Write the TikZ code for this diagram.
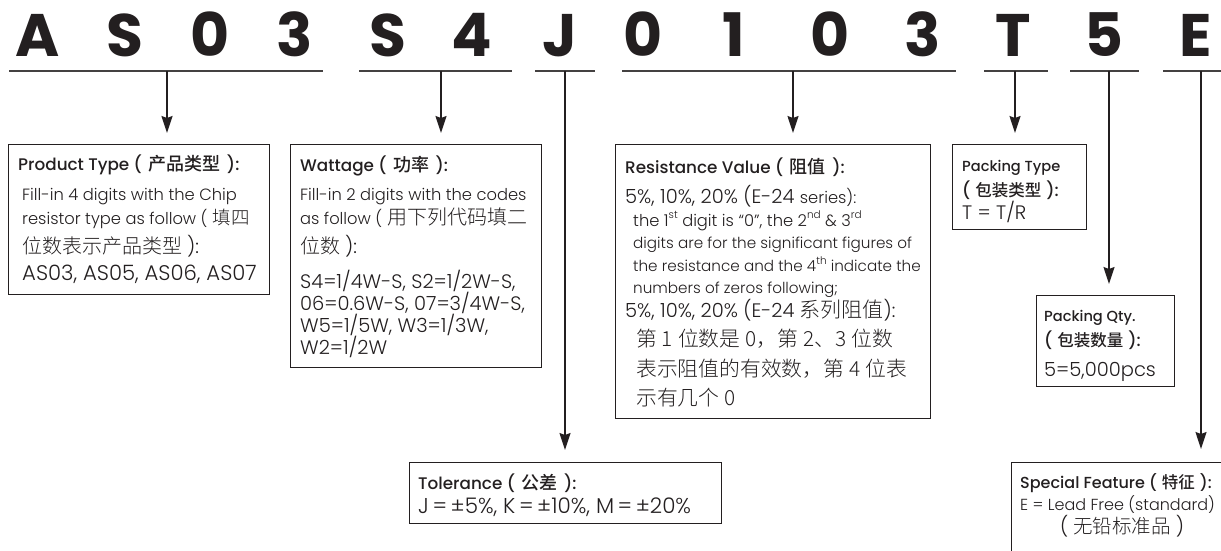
\documentclass[tikz,border=0pt]{standalone}
\usepackage{fontspec}
\usetikzlibrary{arrows.meta}
\newfontfamily\poppins{Poppins}
\IfFontExistsTF{Poppins Light}{\newfontfamily\bodyf{Poppins Light}}{\newfontfamily\bodyf{Poppins}}
\IfFontExistsTF{Poppins Medium}{\newfontfamily\titf{Poppins Medium}}{\newfontfamily\titf{Poppins}[FakeBold=1.2]}
\IfFontExistsTF{Noto Sans CJK SC Light}{\newfontfamily\cjkl{Noto Sans CJK SC Light}}{\newfontfamily\cjkl{Noto Sans CJK SC}}
\IfFontExistsTF{Noto Sans CJK SC Medium}{\newfontfamily\cjkm{Noto Sans CJK SC Medium}}{\newfontfamily\cjkm{Noto Sans CJK SC}}
\newcommand\smf{\fontsize{16.3}{18}\bodyf}
\newcommand\rsf{\fontsize{15.2}{18}\bodyf}
\newcommand\lgf{\fontsize{19.5}{22}\bodyf}
\newcommand\cjf{\fontsize{20}{22}\cjkl}
\newcommand\cjr{\fontsize{20.8}{22}\cjkl}
\newcommand\titl{\fontsize{16.8}{18}\titf}
\newcommand\titp{\fontsize{14.6}{18}\titf}
\newcommand\tcj{\fontsize{18}{18}\cjkm}
\newcommand\tcp{\fontsize{16.5}{18}\cjkm}
\newcommand\sups[1]{\raisebox{0.45em}{\fontsize{10.5}{10}\bodyf #1}}
\newcommand\gap{\hspace{5pt}}
\newcommand\tgap{\hspace{6.5pt}}
\definecolor{ink}{HTML}{231F20}
\tikzset{
  big/.style={anchor=base, inner sep=0pt, text=ink, font=\fontsize{60}{60}\poppins\bfseries},
  uline/.style={line width=2.6pt, draw=ink!85},
  conn/.style={line width=1.4pt, draw=ink, -{Stealth[length=17pt,width=11pt,inset=2pt]}},
  box/.style={draw=ink, line width=1.3pt, anchor=north west, inner sep=0pt},
  txt/.style={anchor=base west, inner sep=0pt, text=ink}
}
\begin{document}
\begin{tikzpicture}[x=1pt,y=-1pt]
\useasboundingbox (0,0) rectangle (1221,551);
% code letters
\node[big] (L1) at (38,57) {A};
\node[big] (L2) at (125,57) {S};
\node[big] (L3) at (210,57) {0};
\node[big] (L4) at (295,57) {3};
\node[big] (L5) at (388,57) {S};
\node[big] (L6) at (472,57) {4};
\node[big] (L7) at (560,57) {J};
\node[big] (L8) at (643,57) {0};
\node[big] (L9) at (734,57) {1};
\node[big] (L10) at (830,57) {0};
\node[big] (L11) at (923,57) {3};
\node[big] (L12) at (1013,57) {T};
\node[big] (L13) at (1104,57) {5};
\node[big] (L14) at (1196,57) {E};
% underlines
\draw[uline] (9,71) -- (323,71);
\draw[uline] (359,71) -- (512,71);
\draw[uline] (535,71) -- (595,71);
\draw[uline] (622,71) -- (956,71);
\draw[uline] (984,71) -- (1048,71);
\draw[uline] (1070,71) -- (1139,71);
\draw[uline] (1163,71) -- (1230,71);
\coordinate (u1) at (167,71);
\coordinate (u2) at (441,71);
\coordinate (u3) at (565,71);
\coordinate (u4) at (793,71);
\coordinate (u5) at (1015,71);
\coordinate (u6) at (1109,71);
\coordinate (u7) at (1201,71);
% boxes
\node[box, minimum width=261pt, minimum height=150pt] (b1) at (8,144) {};
\node[box, minimum width=251pt, minimum height=223pt] (b2) at (290,144) {};
\node[box, minimum width=315pt, minimum height=274pt] (b3) at (615,144) {};
\node[box, minimum width=134pt, minimum height=85pt] (b4) at (952,144) {};
\node[box, minimum width=138pt, minimum height=91pt] (b5) at (1036,295) {};
\node[box, minimum width=312pt, minimum height=61pt] (b6) at (409,462) {};
\node[box, minimum width=230pt, minimum height=110pt] (b7) at (1011,462) {};
% connectors
\draw[conn, shorten >=11pt] (u1) -- (u1 |- b1.north);
\draw[conn, shorten >=11pt] (u2) -- (u2 |- b2.north);
\draw[conn, shorten >=12pt] (u3) -- (u3 |- b6.north);
\draw[conn, shorten >=11pt] (u4) -- (u4 |- b3.north);
\draw[conn, shorten >=11pt] (u5) -- (u5 |- b4.north);
\draw[conn, shorten >=11pt] (u6) -- (u6 |- b5.north);
\draw[conn, shorten >=13pt] (u7) -- (u7 |- b7.north);
% box 1
\node[txt] (t1a) at (18,170) {\titl Product Type (\tgap\tcj 产品类型\tgap\titl ):};
\node[txt] (t1b) at (22,200) {\smf Fill-in 4 digits with the Chip};
\node[txt] (t1c) at (22,224) {\smf resistor type as follow (\gap\fontsize{18.5}{20}\cjkl 填四};
\node[txt] (t1d) at (22,253) {\cjf 位数表示产品类型\gap\lgf ):};
\node[txt] (t1e) at (22,280) {\fontsize{21.2}{22}\bodyf AS03, AS05, AS06, AS07};
% box 2
\node[txt] (t2a) at (300,171) {\titl Wattage (\tgap\tcj 功率\tgap\titl ):};
\node[txt] (t2b) at (300,200) {\smf Fill-in 2 digits with the codes};
\node[txt] (t2c) at (300,224) {\smf as follow (\gap\cjf 用下列代码填二};
\node[txt] (t2d) at (300,253) {\cjf 位数\gap\lgf ):};
\node[txt] (t2e) at (300,288) {\lgf S4=1/4W-S, S2=1/2W-S,};
\node[txt] (t2f) at (300,310) {\lgf 06=0.6W-S, 07=3/4W-S,};
\node[txt] (t2g) at (300,332) {\lgf W5=1/5W, W3=1/3W,};
\node[txt] (t2h) at (300,354) {\lgf W2=1/2W};
% box 3
\node[txt] (t3a) at (625,173) {\titl Resistance Value (\tgap\tcj 阻值\tgap\titl ):};
\node[txt] (t3b) at (625,203) {\lgf 5\%, 10\%, 20\% (E-24 \smf series):};
\node[txt] (t3c) at (633,226) {\smf the 1\sups{st} digit is “0”, the 2\sups{nd} \& 3\sups{rd}};
\node[txt] (t3d) at (633,248) {\rsf digits are for the significant figures of};
\node[txt] (t3e) at (633,271) {\rsf the resistance and the 4\sups{th} indicate the};
\node[txt] (t3f) at (633,293) {\rsf numbers of zeros following;};
\node[txt] (t3g) at (625,317) {\lgf 5\%, 10\%, 20\% (E-24\gap\fontsize{21}{22}\cjkl 系列阻值\lgf ):};
\node[txt] (t3h) at (636,346) {\cjr 第\gap 1\gap 位数是\gap 0，第\gap 2、3\gap 位数};
\node[txt] (t3i) at (636,376) {\cjr 表示阻值的有效数，第\gap 4\gap 位表};
\node[txt] (t3j) at (636,405) {\cjr 示有几个\gap 0};
% box 4
\node[txt] (t4a) at (962,171) {\titp Packing Type};
\node[txt] (t4b) at (962,196) {\titl (\gap\tcp 包装类型\gap\titl ):};
\node[txt] (t4c) at (962,219) {\lgf T = T/R};
% box 5
\node[txt] (t5a) at (1044,321) {\titp Packing Qty.};
\node[txt] (t5b) at (1044,346) {\titl (\gap\tcp 包装数量\gap\titl ):};
\node[txt] (t5c) at (1044,376) {\lgf 5=5,000pcs};
% box 6
\node[txt] (t6a) at (418,489) {\titl Tolerance (\tgap\tcj 公差\tgap\titl ):};
\node[txt] (t6b) at (418,513) {\fontsize{21.5}{22}\bodyf J\,=\,±5\%, K\,=\,±10\%, M\,=\,±20\%};
% box 7
\node[txt] (t7a) at (1020,488) {\fontsize{16}{18}\titf Special Feature (\gap\tcp 特征\gap\fontsize{16}{18}\titf ):};
\node[txt] (t7b) at (1020,510) {\fontsize{16}{18}\bodyf E = Lead Free (standard)};
\node[txt] (t7c) at (1060,533) {\lgf (\gap\fontsize{19.5}{20}\cjkl 无铅标准品\gap\lgf )};
\end{tikzpicture}
\end{document}
